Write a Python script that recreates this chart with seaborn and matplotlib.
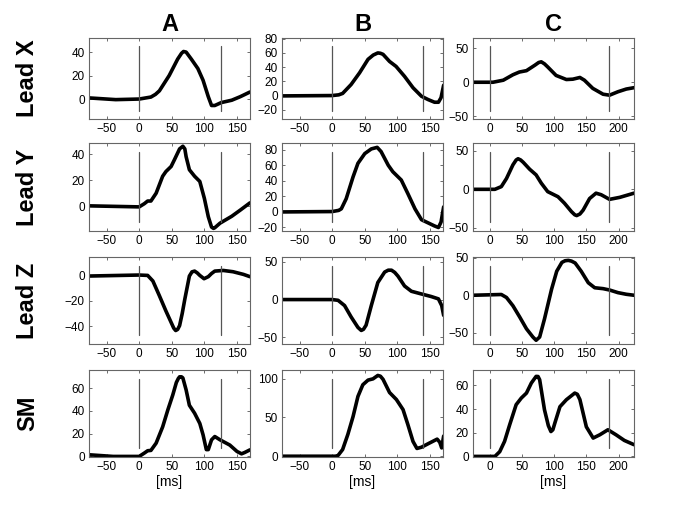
"""
plot.py
=======
Averaged lead X/Y/Z signals and spatial magnitude (SM) for three cases.
"""

import matplotlib
matplotlib.use("Agg")
import matplotlib.pyplot as plt
import seaborn as sns

sns.set_style("white", {"text.color": "black", "axes.labelcolor": "black",
                        "xtick.color": "black", "ytick.color": "black"})
plt.rcParams["font.family"] = ["Liberation Sans", "DejaVu Sans"]

# ---------------------------------------------------------------------------
# Data (time in ms, amplitude)
# ---------------------------------------------------------------------------
COLUMNS = ["A", "B", "C"]
ROWS = ["Lead X", "Lead Y", "Lead Z", "SM"]

# markers (start / end of the interval) per column
MARK_A = [0, 125]
MARK_B = [0, 140]
MARK_C = [0, 185]

# column A
AX_T = [-78, -36, 0, 18, 25, 31, 46, 59, 65, 68, 72, 80, 90, 98, 106, 111, 116, 126, 142, 155, 170]
AX_V = [1, -0.5, 0, 1.7, 4, 7, 20, 34, 39, 40.5, 40, 34, 26, 16, 2, -5.5, -5.5, -3, -1, 2, 6]
AY_T = [-78, 0, 8, 13, 18, 26, 36, 41, 49, 54, 62, 67, 70, 72, 77, 85, 93, 100, 106, 111, 114, 116, 124,
        142, 155, 170]
AY_V = [0.3, -0.5, 2, 4, 4, 10, 23, 26.6, 30.5, 35.6, 44, 46, 44, 38, 28, 23, 19, 6, -8, -16, -17, -16.5,
        -13, -7.7, -3, 2.6]
AZ_T = [-78, 0, 13, 21, 31, 41, 49, 53, 56, 59, 62, 66, 70, 77, 81, 85, 89, 93, 99.5, 106, 111, 116, 129,
        144, 160, 170]
AZ_V = [-0.5, 0.3, 0, -4.4, -16, -28, -37, -41.5, -43.4, -42.5, -39.5, -30, -18.7, -0.5, 2.8, 3.4, 2, 0,
        -2.6, -1, 1.5, 3.4, 3.9, 2.9, 0.8, -1]
ASM_T = [-78, -40, 0, 8, 13, 18, 26, 36, 44, 51.5, 57, 60, 62, 65, 67, 72, 77, 85, 93, 98, 103, 106, 111,
         116, 124, 139, 150, 157, 162, 170]
ASM_V = [1.5, 0, 0, 3, 5, 5.3, 11.7, 26, 41, 54, 65, 68.5, 70, 70, 69, 58.5, 45, 38, 29, 19, 6, 6, 14.6,
         17.5, 14.6, 10, 4.4, 2.3, 3.5, 5.8]

# column B
BX_T = [-78, 0, 10, 16, 29, 42, 55, 63, 70, 74, 78, 88, 98, 111, 124, 137, 147, 157, 163, 167, 171]
BX_V = [-0.5, 0, 1, 3, 15.5, 32, 51, 57, 60, 59.5, 58, 48, 41, 27, 11, -1, -5.6, -9.4, -9.4, -3, 14.6]
BY_T = [-78, 0, 10, 14, 21.5, 32, 39.5, 50, 60, 69, 75, 86, 93, 106, 116, 127, 137, 147, 157, 163, 167, 171]
BY_V = [0, 0.5, 2, 4, 17, 45, 62.5, 75, 81, 83, 77.6, 60, 51.7, 41, 23.7, 4, -10, -14, -18, -20, -13, 6.5]
BZ_T = [-78, 0, 9, 19, 29, 39.5, 44.6, 48, 52, 60, 70, 80.5, 86, 91, 96, 101, 111, 121.5, 137, 152, 163,
        168, 171]
BZ_V = [0, 0, -1, -8, -23, -37, -41, -39.5, -34, -8, 22.6, 36.5, 39, 39, 36, 31, 18, 11, 7.4, 4, 0.9, -8, -21]
BSM_T = [-78, 5, 9, 16, 24, 32, 39.5, 47, 55, 62.6, 70, 74, 78, 88, 98.5, 108.7, 116, 124, 130, 137, 147,
         161, 165, 168, 171]
BSM_V = [0, 0, 1, 8.6, 28, 51, 77, 92, 98, 99.6, 104, 103, 99, 82, 73, 60, 41, 19, 10, 11.6, 16, 22, 18,
         10.7, 26]

# column C
CX_T = [-26, 5, 21, 36, 46, 57, 70, 76, 80, 85, 90, 103, 119, 129, 140, 147, 160, 176, 186, 199, 212, 224]
CX_V = [0, 0, 3, 11, 15, 17, 25, 29, 30, 27, 22.5, 10, 4, 4.5, 7, 3, -9, -17.6, -19, -14, -10, -8]
CY_T = [-26, 8, 18, 26, 36, 41, 44, 48, 52, 62, 72, 80, 90, 106, 116, 127, 132, 135, 140, 145, 155, 165,
        173, 186, 202, 224]
CY_V = [0, 0, 3.5, 14, 31.7, 38, 39.6, 38, 35, 26, 18.7, 8, -3, -9.6, -18, -29, -33, -34, -32, -27, -12,
        -5, -7, -13, -10.4, -5]
CZ_T = [-26, 18, 26, 36, 46.5, 57, 67, 72, 77.5, 85, 96, 104, 112, 117, 122, 127, 132.6, 142, 153, 163,
        176, 186, 199, 212, 224]
CZ_V = [0, 1, -3, -14, -29, -44.7, -55.7, -60, -55.7, -31.6, 8, 32, 43.8, 46, 46.5, 45.5, 43, 32, 16.7,
        10, 8.8, 7, 3.5, 1.3, 0]
CSM_T = [-26, 8, 15.5, 23, 31, 41, 49, 57, 64.6, 72, 75, 77.5, 85, 91, 95, 98, 101, 109, 119, 132, 136,
         140, 150, 160.6, 171, 183.5, 196, 209, 224]
CSM_V = [0, 0, 4, 12.7, 26.8, 43.7, 49.3, 53.5, 62, 67.6, 67.5, 64.8, 39.4, 26, 21, 22.5, 28, 42, 47.9,
         53.5, 52.5, 48, 25, 15.5, 18.3, 22.5, 18.3, 13.5, 9.9]

# axis limits and ticks per panel
XLIM_AB = (-77, 170)
XLIM_C = (-26, 224)
XTICKS_AB = [-50, 0, 50, 100, 150]
XTICKS_C = [0, 50, 100, 150, 200]

YLIMS = [
    [(-17, 52), (-33, 81), (-54, 65)],
    [(-19, 48.5), (-24.5, 88.6), (-54, 60)],
    [(-54, 14.5), (-59, 56.5), (-65, 51)],
    [(-0.5, 76), (-1, 111), (-0.5, 73)],
]
YTICKS = [
    [[0, 20, 40], [-20, 0, 20, 40, 60, 80], [-50, 0, 50]],
    [[0, 20, 40], [-20, 0, 20, 40, 60, 80], [-50, 0, 50]],
    [[-40, -20, 0], [-50, 0, 50], [-50, 0, 50]],
    [[0, 20, 40, 60], [0, 50, 100], [0, 20, 40, 60]],
]

SERIES = [
    [(AX_T, AX_V), (BX_T, BX_V), (CX_T, CX_V)],
    [(AY_T, AY_V), (BY_T, BY_V), (CY_T, CY_V)],
    [(AZ_T, AZ_V), (BZ_T, BZ_V), (CZ_T, CZ_V)],
    [(ASM_T, ASM_V), (BSM_T, BSM_V), (CSM_T, CSM_V)],
]
MARKS = [MARK_A, MARK_B, MARK_C]

# ---------------------------------------------------------------------------
# Layout (pixel boxes converted to figure fractions)
# ---------------------------------------------------------------------------
W, H = 685, 514
COL_LEFT = [89, 282, 473]
COL_WIDTH = 161
ROW_BOX = [(38, 119), (143, 231), (257, 344), (370, 457)]

fig = plt.figure(figsize=(W / 100, H / 100), dpi=100)

for r in range(4):
    top, bottom = ROW_BOX[r]
    for c in range(3):
        ax = fig.add_axes([COL_LEFT[c] / W, 1 - bottom / H, COL_WIDTH / W, (bottom - top) / H])
        t, v = SERIES[r][c]
        sns.lineplot(x=t, y=v, ax=ax, sort=False, estimator=None, color="black",
                     linewidth=2.6, solid_joinstyle="round", solid_capstyle="round")
        for m in MARKS[c]:
            ax.axvline(m, ymin=0.1, ymax=0.9, color="#555555", linewidth=0.9)

        ax.set_xlim(XLIM_C if c == 2 else XLIM_AB)
        ax.set_xticks(XTICKS_C if c == 2 else XTICKS_AB)
        ax.set_ylim(*YLIMS[r][c])
        ax.set_yticks(YTICKS[r][c])
        ax.tick_params(direction="in", length=2.5, width=0.6, labelsize=8.5,
                       bottom=True, left=True, top=True, right=True,
                       color="#555555", labelcolor="black", pad=3)
        for s in ax.spines.values():
            s.set_color("#666666")
            s.set_linewidth(0.8)

        if r == 0:
            ax.set_title(COLUMNS[c], fontsize=17, fontweight="bold", pad=5)
        if r == 3:
            ax.set_xlabel("[ms]", fontsize=10, labelpad=1)

    fig.text(28 / W, 1 - (top + bottom) / 2 / H, ROWS[r], rotation=90, fontsize=17,
             fontweight="bold", ha="center", va="center")

fig.savefig("out.png", dpi=100)
plt.close(fig)
